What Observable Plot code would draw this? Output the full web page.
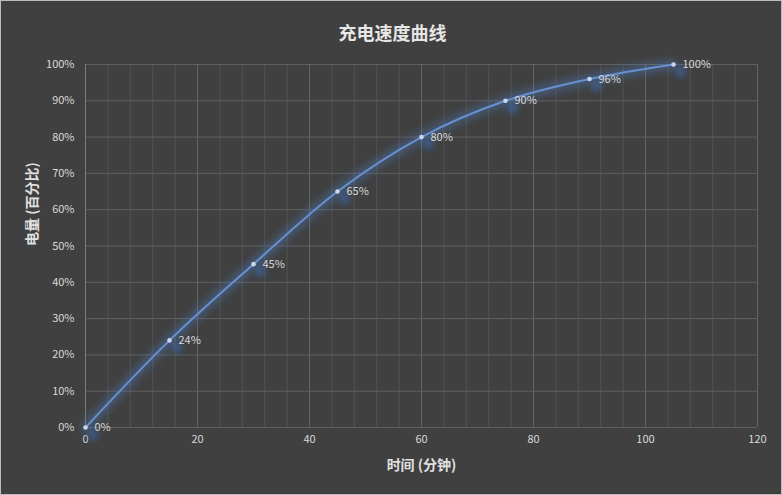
<!DOCTYPE html>
<html>
<head>
<meta charset="utf-8">
<script src="https://cdn.jsdelivr.net/npm/d3@7"></script>
<script src="https://cdn.jsdelivr.net/npm/@observablehq/plot@0.6"></script>
<style>
  html, body { margin: 0; padding: 0; background: #404040; }
  #frame { width: 780px; height: 493px; border: 1px solid #bdbdbd; background: #404040; position: relative; }
  svg { display: block; }
</style>
</head>
<body>
<div id="frame"></div>
<script>
const minutes = [0, 15, 30, 45, 60, 75, 90, 105];
const charge = [0, 24, 45, 65, 80, 90, 96, 100];
const xTicks = [0, 20, 40, 60, 80, 100, 120];
const xMinorTicks = d3.range(0, 121, 4);
const yTicks = [0, 10, 20, 30, 40, 50, 60, 70, 80, 90, 100];
const titleText = "充电速度曲线";
const xTitle = "时间 (分钟)";
const yTitle = "电量 (百分比)";

const data = minutes.map((m, i) => ({m, c: charge[i]}));
const font = "'Noto Sans CJK SC', 'Noto Sans', sans-serif";

const chart = Plot.plot({
  width: 780,
  height: 493,
  marginLeft: 84,
  marginRight: 24,
  marginTop: 63,
  marginBottom: 67,
  style: {background: "#404040", color: "#d9d9d9", fontFamily: font, fontSize: "11px"},
  x: {domain: [0, 120], ticks: xTicks},
  y: {domain: [0, 100], ticks: yTicks},
  marks: [
    Plot.ruleX(xMinorTicks, {stroke: "#525252", strokeWidth: 1}),
    Plot.ruleX(xTicks, {stroke: "#646464", strokeWidth: 1}),
    Plot.ruleY(yTicks, {stroke: "#5f5f5f", strokeWidth: 1}),
    Plot.ruleX([0], {stroke: "#7a7a7a", strokeWidth: 1}),
    Plot.axisX({ticks: xTicks, tickSize: 0, tickPadding: 8, label: null, tickFormat: d => String(d), fill: "#d9d9d9", fontSize: 11}),
    Plot.axisY({ticks: yTicks, tickSize: 0, tickPadding: 11, label: null, tickFormat: d => d + "%", fill: "#d9d9d9", fontSize: 11}),
    // glow under the line
    Plot.line(data, {x: "m", y: "c", stroke: "#4f82d0", strokeWidth: 8, strokeOpacity: 0.45, curve: "monotone-x"}),
    // shadow blobs of markers
    Plot.dot(data, {x: "m", y: "c", r: 5.5, fill: "#3a66a6", fillOpacity: 0.7, dx: 7, dy: 7}),
    Plot.line(data, {x: "m", y: "c", stroke: "#6790d0", strokeWidth: 2, curve: "monotone-x"}),
    Plot.dot(data, {x: "m", y: "c", r: 2.3, fill: "#c9d7ec", stroke: "none"}),
    Plot.text(data, {x: "m", y: "c", text: d => d.c + "%", textAnchor: "start", dx: 9, fill: "#d9d9d9", fontSize: 11}),
    Plot.text([titleText], {frameAnchor: "top", lineAnchor: "middle", dy: -30, dx: -29, fontSize: 18, fontWeight: "bold", fill: "#e6e6e6"}),
    Plot.text([xTitle], {frameAnchor: "bottom", lineAnchor: "middle", dy: 38, fontSize: 14, fontWeight: "bold", fill: "#e0e0e0"}),
    Plot.text([yTitle], {frameAnchor: "left", lineAnchor: "middle", dx: -53, rotate: -90, fontSize: 14, fontWeight: "bold", fill: "#e0e0e0"})
  ]
});

const svg = d3.select(chart);
const defs = svg.insert("defs", ":first-child");
defs.append("filter").attr("id", "glowF").attr("filterUnits", "userSpaceOnUse")
  .attr("x", 0).attr("y", 0).attr("width", 780).attr("height", 493)
  .append("feGaussianBlur").attr("stdDeviation", 4);
defs.append("filter").attr("id", "shadowF").attr("filterUnits", "userSpaceOnUse")
  .attr("x", 0).attr("y", 0).attr("width", 780).attr("height", 493)
  .append("feGaussianBlur").attr("stdDeviation", 3);
const lineGroups = svg.selectAll('g[aria-label="line"]').nodes();
const dotGroups = svg.selectAll('g[aria-label="dot"]').nodes();
if (lineGroups[0]) lineGroups[0].setAttribute("filter", "url(#glowF)");
if (dotGroups[0]) dotGroups[0].setAttribute("filter", "url(#shadowF)");

document.getElementById("frame").appendChild(chart);
</script>
</body>
</html>
